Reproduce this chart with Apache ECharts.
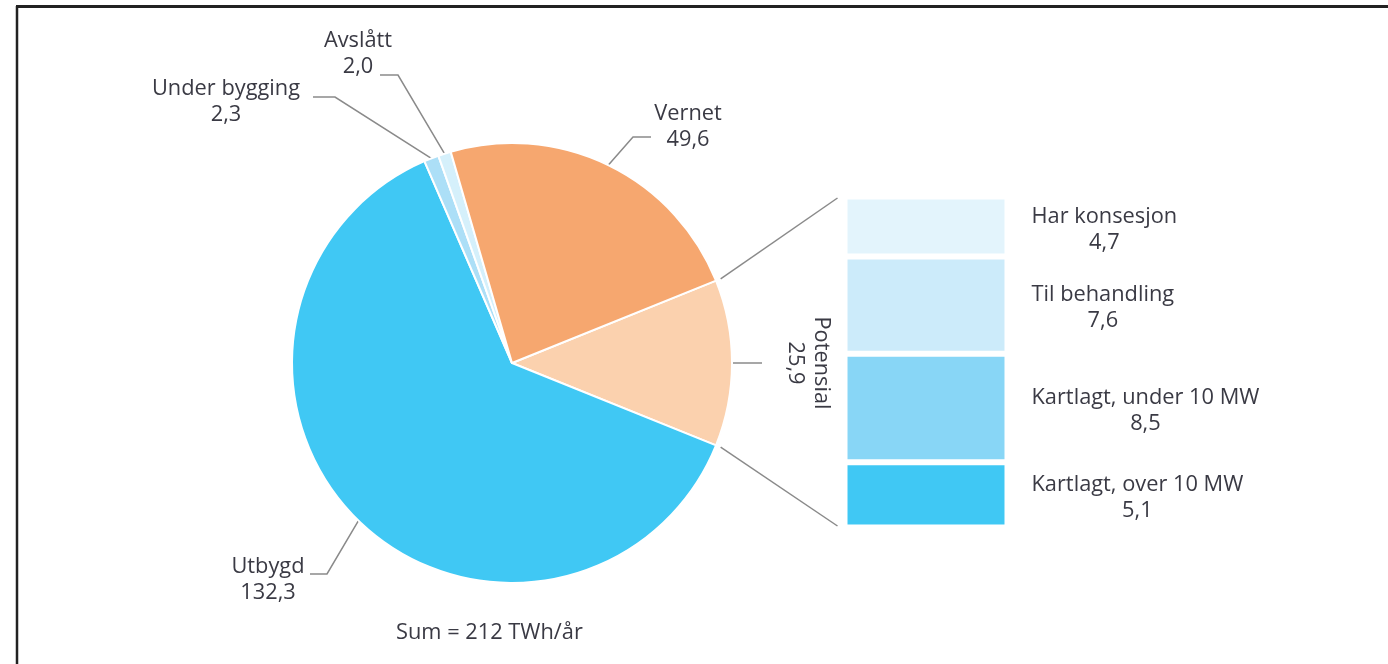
<!DOCTYPE html>
<html><head><meta charset="utf-8">
<script src="https://cdn.jsdelivr.net/npm/echarts@6/dist/echarts.min.js"></script>
<style>html,body{margin:0;padding:0;background:#fff}#chart{width:1388px;height:664px}</style>
</head><body><div id="chart"></div>
<script>
// ---- data ----
const pieCategories = ['Potensial', 'Utbygd', 'Under bygging', 'Avslått', 'Vernet'];
const pieValues = [25.9, 132.3, 2.3, 2.0, 49.6];
const potensialCategories = ['Kartlagt, over 10 MW', 'Kartlagt, under 10 MW', 'Til behandling', 'Har konsesjon'];
const potensialValues = [5.1, 8.5, 7.6, 4.7];
const sumText = 'Sum = 212 TWh/år';

// ---- styles / layout ----
const pieColors = ['#fbd1ae', '#40c8f4', '#acdff7', '#d5f0fb', '#f6a76f'];
const barColors = ['#40c8f4', '#88d6f6', '#ccebfa', '#e3f4fc'];
const textColor = '#3a3a44';
const FONT = 'Open Sans';
const FS = 21.8;
const center = [512, 363];
const radius = 220;
// label anchor, elbow, end of label line
const labelPlace = {
  'Utbygd':        {c: [268, 580], e: [327, 574], t: [310, 574]},
  'Under bygging': {c: [226, 102], e: [335, 97],  t: [313, 97]},
  'Avslått':       {c: [358, 54],  e: [398, 75],  t: [380, 75]},
  'Vernet':        {c: [688, 127], e: [633, 137], t: [651, 137]},
  'Potensial':     {c: [808, 363], e: [762, 363], t: [762, 363]}
};
const grid = {left: 844.5, top: 196.5, width: 163, height: 331};
const barLabelGap = 24;

const fmt = v => v.toFixed(1).replace('.', ',');
const total = pieValues.reduce((a, b) => a + b, 0);
const potVal = pieValues[0];
const startAngle = potVal / total * 180;

const mctx = document.createElement('canvas').getContext('2d');
mctx.font = FS + 'px "' + FONT + '"';
const textW = s => mctx.measureText(s).width;

const chart = echarts.init(document.getElementById('chart'), null, {renderer: 'canvas'});

const barSeries = potensialCategories.map((name, i) => ({
  type: 'bar',
  name: name,
  stack: 'pot',
  xAxisIndex: 0, yAxisIndex: 0,
  barWidth: '100%',
  data: [potensialValues[i]],
  itemStyle: {color: barColors[i], borderColor: '#fff', borderWidth: 3},
  label: {
    show: true,
    position: ['100%', '50%'],
    offset: [barLabelGap + Math.max(textW(name), textW(fmt(potensialValues[i]))) / 2, 3],
    align: 'center',
    verticalAlign: 'middle',
    color: textColor,
    fontFamily: FONT,
    fontSize: FS,
    lineHeight: 26,
    formatter: p => name + '\n' + fmt(p.value)
  },
  silent: true
}));

// connector lines from pie split points to bar corners
const a1 = startAngle * Math.PI / 180;
const a2 = (startAngle - potVal / total * 360) * Math.PI / 180;
const rr = radius + 5;
const p1 = [center[0] + rr * Math.cos(a1), center[1] - rr * Math.sin(a1)];
const p2 = [center[0] + rr * Math.cos(a2), center[1] - rr * Math.sin(a2)];
const barTopLeft = [grid.left - 7, grid.top + 1.5];
const barBotLeft = [grid.left - 7, grid.top + grid.height - 1.5];

chart.setOption({
  animation: false,
  backgroundColor: '#fff',
  grid: [{left: grid.left, top: grid.top, width: grid.width, height: grid.height}],
  xAxis: [{type: 'category', data: ['Potensial'], show: false}],
  yAxis: [{type: 'value', min: 0, max: potensialValues.reduce((a, b) => a + b, 0), show: false}],
  series: [{
    type: 'pie',
    center: center,
    radius: radius,
    startAngle: startAngle,
    clockwise: true,
    silent: true,
    itemStyle: {borderColor: '#fff', borderWidth: 2},
    data: pieCategories.map((n, i) => ({
      name: n, value: pieValues[i],
      itemStyle: {color: pieColors[i]},
      label: n === 'Potensial' ? {rotate: -90} : {}
    })),
    label: {
      show: true,
      position: 'outside',
      color: textColor,
      fontFamily: FONT,
      fontSize: FS,
      lineHeight: 26,
      align: 'center',
      formatter: p => p.name + '\n' + fmt(p.value)
    },
    labelLine: {show: true, length: 20, length2: 20, lineStyle: {color: '#8a8a8a', width: 1.5}},
    labelLayout: function (params) {
      const name = pieCategories[params.dataIndex];
      const pl = labelPlace[name];
      const p0 = params.labelLinePoints ? params.labelLinePoints[0] : pl.e;
      return {
        x: pl.c[0], y: pl.c[1],
        align: 'center', verticalAlign: 'middle',
        labelLinePoints: [p0, pl.e, pl.t]
      };
    }
  }].concat(barSeries),
  graphic: [
    {type: 'line', shape: {x1: 17, y1: 6, x2: 17, y2: 664}, style: {stroke: '#222', lineWidth: 2.5}},
    {type: 'line', shape: {x1: 16, y1: 6.5, x2: 1388, y2: 6.5}, style: {stroke: '#222', lineWidth: 3}},
    {type: 'line', shape: {x1: p1[0], y1: p1[1], x2: barTopLeft[0], y2: barTopLeft[1]}, style: {stroke: '#8a8a8a', lineWidth: 1.5}},
    {type: 'line', shape: {x1: p2[0], y1: p2[1], x2: barBotLeft[0], y2: barBotLeft[1]}, style: {stroke: '#8a8a8a', lineWidth: 1.5}},
    {type: 'text', left: 396, top: 622, style: {text: sumText, fill: textColor, font: FS + 'px "' + FONT + '"'}}
  ]
});
</script></body></html>
